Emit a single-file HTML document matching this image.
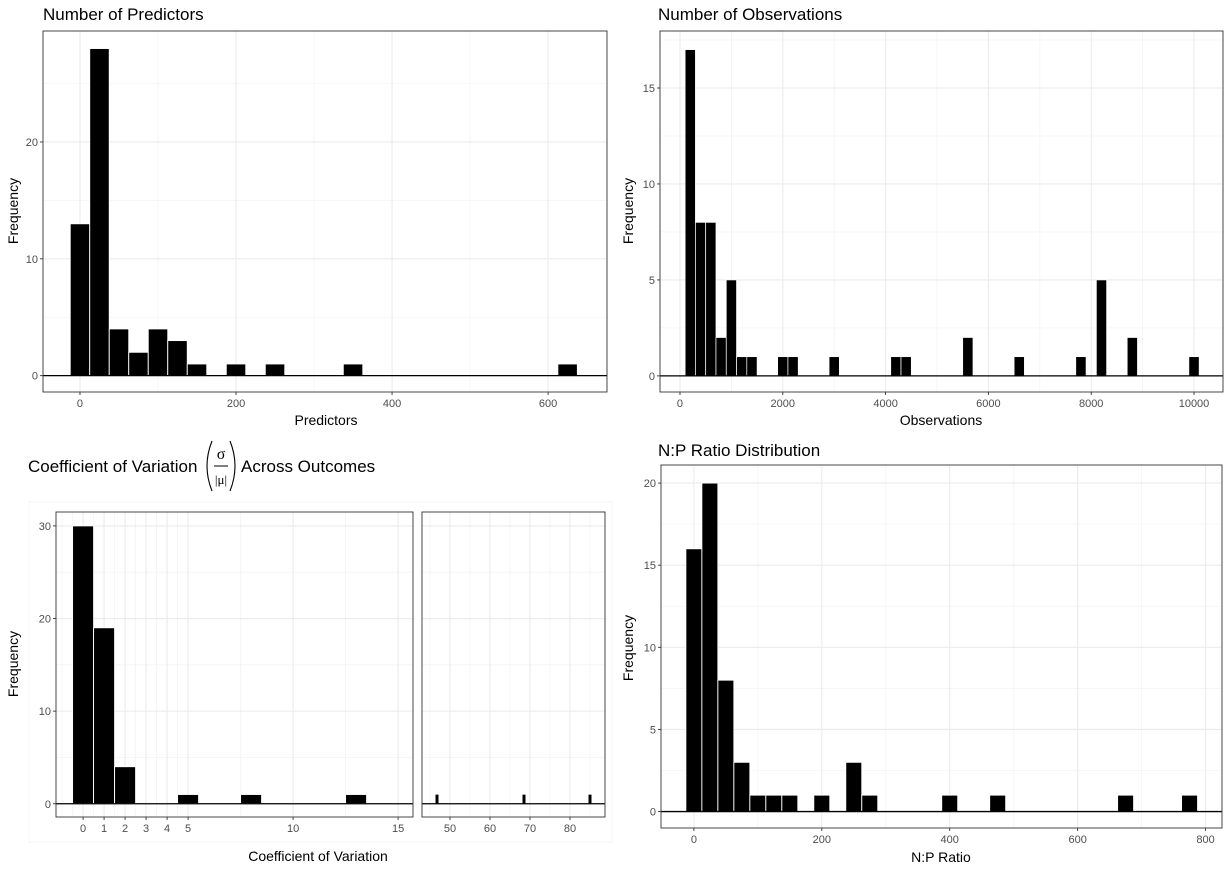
<!DOCTYPE html>
<html><head><meta charset="utf-8"><style>
body{margin:0;background:#fff}
svg{display:block;font-family:"Liberation Sans",Arial,sans-serif}
</style></head><body>
<svg id="fig" width="1231" height="871" viewBox="0 0 1231 871" xmlns="http://www.w3.org/2000/svg"></svg>
<script>
// ---- data ----
const predCenters = [0,25,50,75,100,125,150,200,250,350,625];
const predCounts  = [13,28,4,2,4,3,1,1,1,1,1];
const predXTicks = [0,200,400,600];
const predYTicks = [0,10,20];

const obsCenters = [200,400,600,800,1000,1200,1400,2000,2200,3000,4200,4400,5600,6600,7800,8200,8800,10000];
const obsCounts  = [17,8,8,2,5,1,1,1,1,1,1,1,2,1,1,5,2,1];
const obsXTicks = [0,2000,4000,6000,8000,10000];
const obsYTicks = [0,5,10,15];

const cvCenters = [0,1,2,5,8,13];
const cvCounts  = [30,19,4,1,1,1];
const cvXTicks = [0,1,2,3,4,5,10,15];
const cvYTicks = [0,10,20,30];
const cvHiCenters = [46.75,68.5,85];
const cvHiCounts  = [1,1,1];
const cvHiXTicks = [50,60,70,80];

const npCenters = [0,25,50,75,100,125,150,200,250,275,400,475,675,775];
const npCounts  = [16,20,8,3,1,1,1,1,3,1,1,1,1,1];
const npXTicks = [0,200,400,600,800];
const npYTicks = [0,5,10,15,20];

const NS='http://www.w3.org/2000/svg';
const svg=document.getElementById('fig');
function mk(tag,attrs,parent,text){
  const e=document.createElementNS(NS,tag);
  for(const k in attrs) e.setAttribute(k,attrs[k]);
  if(text!==undefined) e.textContent=text;
  (parent||svg).appendChild(e);
  return e;
}
function mids(t){const r=[];for(let i=0;i<t.length-1;i++)r.push((t[i]+t[i+1])/2);return r;}

function panel(o){
  const g=mk('g',{});
  
  
  const sx=v=>o.x0+(v-o.xa)*(o.x1-o.x0)/(o.xb-o.xa);
  const sy=v=>o.y1-(v-o.ya)*(o.y1-o.y0)/(o.yb-o.ya);
  const xmin=o.xminor||mids(o.xt), ymin=mids(o.yt);
  if(o.yt.length>1){const st=o.yt[1]-o.yt[0];ymin.push(o.yt[o.yt.length-1]+st/2);ymin.push(o.yt[0]-st/2);}
  ymin.forEach(v=>{const y=sy(v);if(y>o.y0&&y<o.y1)mk('line',{x1:o.x0,x2:o.x1,y1:y,y2:y,stroke:'#f4f4f4','stroke-width':0.8},g);});
  xmin.forEach(v=>{const x=sx(v);if(x>o.x0&&x<o.x1)mk('line',{x1:x,x2:x,y1:o.y0,y2:o.y1,stroke:'#f4f4f4','stroke-width':0.8},g);});
  o.yt.forEach(v=>{const y=sy(v);mk('line',{x1:o.x0,x2:o.x1,y1:y,y2:y,stroke:'#ebebeb','stroke-width':1.1},g);});
  o.xt.forEach(v=>{const x=sx(v);mk('line',{x1:x,x2:x,y1:o.y0,y2:o.y1,stroke:'#ebebeb','stroke-width':1.1},g);});
  o.centers.forEach((c,i)=>{
    const xl=sx(c-o.bw/2), xr=sx(c+o.bw/2), yt=sy(o.counts[i]), yb=sy(0);
    const r=mk('rect',{x:xl,y:yt,width:xr-xl,height:yb-yt,fill:'#000',stroke:'#fff','stroke-width':o.sw||0.9},g);
    
    
  });
  mk('line',{x1:o.x0,x2:o.x1,y1:sy(0),y2:sy(0),stroke:'#000','stroke-width':1.3},g);
  mk('rect',{x:o.x0,y:o.y0,width:o.x1-o.x0,height:o.y1-o.y0,fill:'none',stroke:'#333','stroke-width':0.9},g);
  if(o.ylab!==false) o.yt.forEach(v=>{const y=sy(v);
    mk('line',{x1:o.x0-3,x2:o.x0,y1:y,y2:y,stroke:'#333','stroke-width':0.9},g);
    const t=mk('text',{x:o.x0-5,y:y+4,'text-anchor':'end','font-size':11,fill:'#4d4d4d'},g,String(v));
    });
  o.xt.forEach(v=>{const x=sx(v);
    mk('line',{x1:x,x2:x,y1:o.y1,y2:o.y1+3,stroke:'#333','stroke-width':0.9},g);
    const t=mk('text',{x:x,y:o.y1+15,'text-anchor':'middle','font-size':11,fill:'#4d4d4d'},g,String(v));
    });
  return g;
}
function txt(x,y,s,size,name,extra){
  const t=mk('text',Object.assign({x:x,y:y,'font-size':size,fill:'#000'},extra||{}),svg,s);
  return t;
}

// Panel 1
panel({name:'predictors-hist',x0:43,x1:607,y0:31,y1:392,xa:-47.4,xb:675.5,ya:-1.4,yb:29.5,xt:predXTicks,yt:predYTicks,centers:predCenters,counts:predCounts,bw:25});
txt(43,20,'Number of Predictors',17,'predictors-title');
txt(326,425,'Predictors',14,'predictors-x-title',{'text-anchor':'middle'});
txt(18,211,'Frequency',14,'predictors-y-title',{'text-anchor':'middle',transform:'rotate(-90 18 211)'});

// Panel 2
panel({name:'observations-hist',x0:660,x1:1223,y0:31,y1:392,xa:-389,xb:10564,ya:-0.84,yb:17.97,xt:obsXTicks,yt:obsYTicks,centers:obsCenters,counts:obsCounts,bw:200,sw:0.7});
txt(658,20,'Number of Observations',17,'observations-title');
txt(941,425,'Observations',14,'observations-x-title',{'text-anchor':'middle'});
txt(633,211,'Frequency',14,'observations-y-title',{'text-anchor':'middle',transform:'rotate(-90 633 211)'});

// Panel 3
const bg=mk('rect',{x:29,y:502,width:583,height:340,fill:'#fff',stroke:'#f4f4f4','stroke-width':1});

panel({name:'cv-hist-low',x0:56,x1:413,y0:512,y1:817,xa:-1.29,xb:15.71,ya:-1.43,yb:31.5,xt:cvXTicks,xminor:[-1,-0.5,0.5,1.5,2.5,3.5,4.5,7.5,12.5],yt:cvYTicks,centers:cvCenters,counts:cvCounts,bw:1});
panel({name:'cv-hist-high',x0:422,x1:605,y0:512,y1:817,xa:43,xb:88.75,ya:-1.43,yb:31.5,xt:cvHiXTicks,xminor:[45,55,65,75,85],yt:cvYTicks,centers:cvHiCenters,counts:cvHiCounts,bw:0.8,sw:0.3,ylab:false});
txt(28,472,'Coefficient of Variation',17,'cv-title');
const pl=mk('path',{d:'M212,441 Q202,466 212,491',fill:'none',stroke:'#000','stroke-width':1.1});

const pr=mk('path',{d:'M230,441 Q240,466 230,491',fill:'none',stroke:'#000','stroke-width':1.1});

txt(221,459,'σ',16,'cv-title-sigma',{'text-anchor':'middle','font-family':'Liberation Serif'});
mk('line',{x1:214,x2:228,y1:466,y2:466,stroke:'#000','stroke-width':1});
txt(221,484,'|μ|',13,'cv-title-mu',{'text-anchor':'middle','font-family':'Liberation Serif'});
txt(241,472,'Across Outcomes',17,'cv-title-rest');
txt(318,861,'Coefficient of Variation',14,'cv-x-title',{'text-anchor':'middle'});
txt(18,664,'Frequency',14,'cv-y-title',{'text-anchor':'middle',transform:'rotate(-90 18 664)'});

// Panel 4
panel({name:'np-ratio-hist',x0:661,x1:1222,y0:465,y1:828,xa:-51.4,xb:825.7,ya:-1.0,yb:21.1,xt:npXTicks,yt:npYTicks,centers:npCenters,counts:npCounts,bw:25});
txt(658,456,'N:P Ratio Distribution',17,'np-title');
txt(941,862,'N:P Ratio',14,'np-x-title',{'text-anchor':'middle'});
txt(633,648,'Frequency',14,'np-y-title',{'text-anchor':'middle',transform:'rotate(-90 633 648)'});
</script>
</body></html>
